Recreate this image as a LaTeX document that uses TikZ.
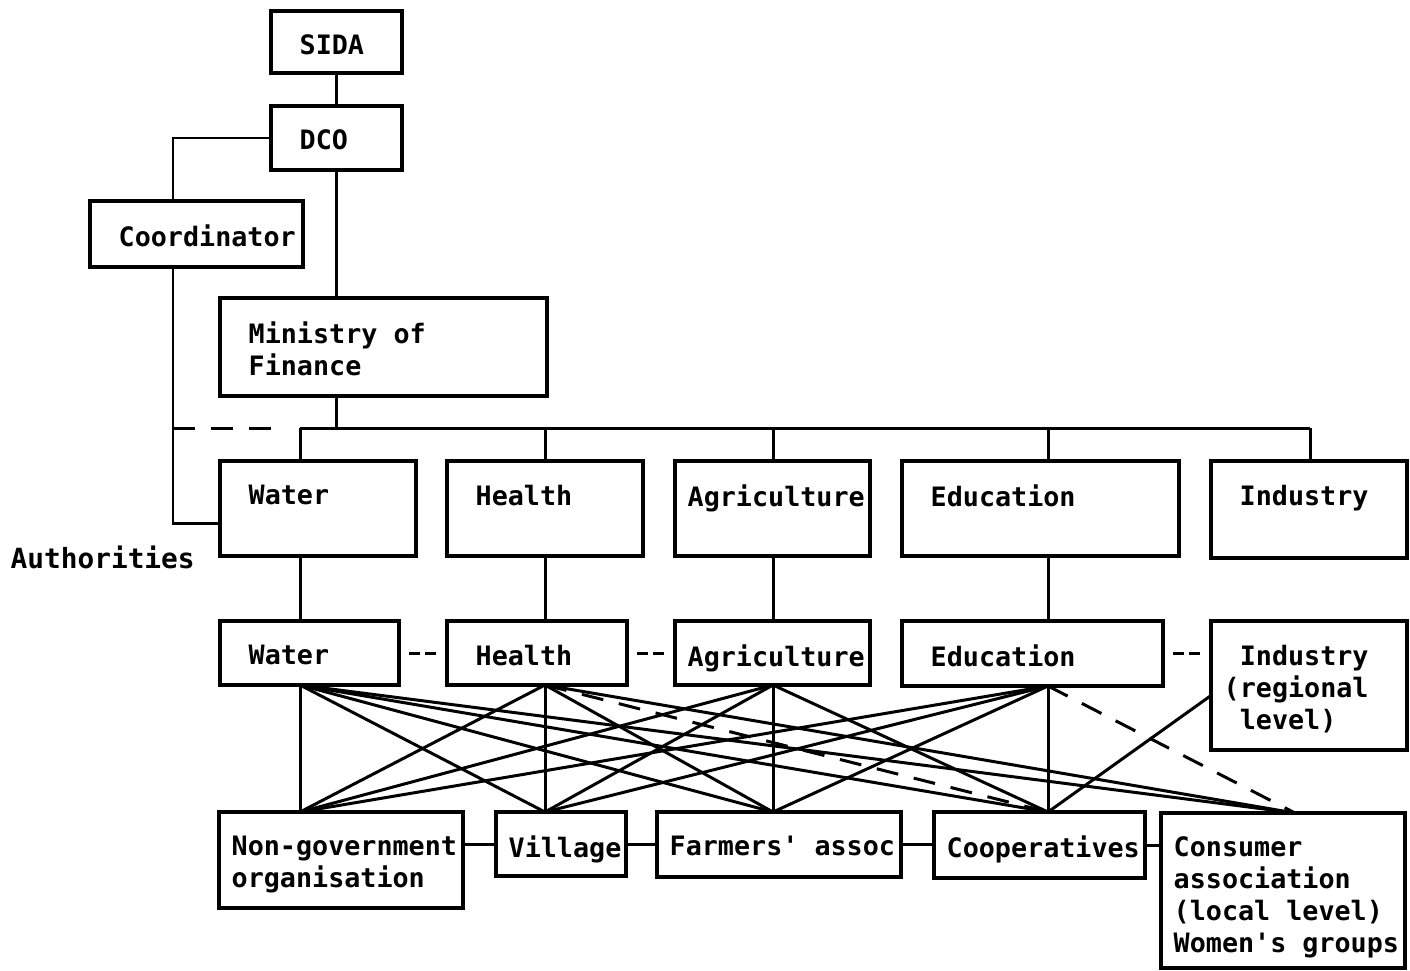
\documentclass[tikz,border=0pt]{standalone}
\usepackage{fontspec}
\setmonofont{DejaVu Sans Mono}
\usetikzlibrary{calc}

\begin{document}
\begin{tikzpicture}[x=0.01cm,y=-0.01cm,
	box/.style 2 args={draw, line width=0.9pt, inner sep=0pt, outer sep=0pt, anchor=north west, minimum width=#1*0.01cm, minimum height=#2*0.01cm},
	lbl/.style={anchor=north west, inner sep=0pt, align=left, xshift=0.12cm, yshift=-0.23cm, font=\ttfamily\bfseries\fontsize{7.6}{9.1}\selectfont},
	ind/.style={xshift=0.16cm},
	link/.style={line width=0.85pt},
	longdash/.style={link, dash pattern=on 0.22cm off 0.16cm},
	shortdash/.style={link, dash pattern=on 0.11cm off 0.05cm, shorten <=0.1cm, shorten >=0.1cm},
	]
	\useasboundingbox (0,0) rectangle (1410,970);
	
	% top of the chart
	\node[box={131}{62}, label={[lbl,ind]north west:SIDA}] (sida) at (271,11) {};
	\node[box={131}{64}, label={[lbl,ind]north west:DCO}] (dco) at (271,106) {};
	\node[box={213}{66}, label={[lbl,ind]north west:Coordinator}] (coor) at (90,201) {};
	\node[box={327}{98}, label={[lbl,ind]north west:Ministry of\\Finance}] (min) at (220,298) {};
	
	% authorities
	\node[box={196}{95}, label={[lbl,ind]north west:Water}] (wat) at (220,461) {};
	\node[box={196}{95}, label={[lbl,ind]north west:Health}] (hea) at (447,461) {};
	\node[box={195}{95}, label={[lbl]north west:Agriculture}] (agr) at (675,461) {};
	\node[box={277}{95}, label={[lbl,ind]north west:Education}] (edu) at (902,461) {};
	\node[box={196}{97}, label={[lbl,ind]north west:Industry}] (ind) at (1211,461) {};
	\node[anchor=west, inner sep=0pt, font=\ttfamily\bfseries\fontsize{7.9}{9.1}\selectfont] (auth) at (10,557) {Authorities};
	
	% regional level
	\node[box={179}{64}, label={[lbl,ind]north west:Water}] (rwat) at (220,621) {};
	\node[box={180}{64}, label={[lbl,ind]north west:Health}] (rhea) at (447,621) {};
	\node[box={195}{64}, label={[lbl]north west:Agriculture}] (ragr) at (675,621) {};
	\node[box={261}{65}, label={[lbl,ind]north west:Education}] (redu) at (902,621) {};
	\node[box={196}{129}, label={[lbl]north west:~Industry\\(regional\\~level)}] (rind) at (1211,621) {};
	
	% local level
	\node[box={244}{96}, label={[lbl]north west:Non-government\\organisation}] (ngo) at (219,812) {};
	\node[box={130}{64}, label={[lbl]north west:Village}] (vil) at (496,812) {};
	\node[box={244}{65}, label={[lbl]north west:Farmers' assoc}] (far) at (657,812) {};
	\node[box={211}{66}, label={[lbl]north west:Cooperatives}] (coop) at (934,812) {};
	\node[box={244}{155}, label={[lbl]north west:Consumer\\association\\(local level)\\Women's groups}] (cons) at (1161,813) {};
	
	\path
	(300,428) coordinate (k1)
	(545,428) coordinate (k2)
	(773,428) coordinate (k3)
	(1048,428) coordinate (k4)
	(1310,428) coordinate (k5)
	(1295,428) coordinate (kb)
	(173,428) coordinate (kc)
	(280,428) coordinate (dend)
	;
	
	\draw[link] (sida) -- (dco);
	\draw[link] (dco.west) -| (kc |- coor.north);
	\draw[link] (dco.south) -- (dco.south |- min.north);
	\draw[link] (dco.south |- min.south) -- (dco.south |- k1);
	\draw[link] (k1) -- (k5);
	\foreach \c/\n in {1/wat,2/hea,3/agr,4/edu,5/ind}
		\draw[link] (k\c) -- (k\c |- \n.north);
	\foreach \c/\n/\r in {1/wat/rwat,2/hea/rhea,3/agr/ragr,4/edu/redu}
		\draw[link] (k\c |- \n.south) -- (k\c |- \r.north);
	\draw[link] (kc |- coor.south) |- ([yshift=-0.15cm]wat.west);
	\draw[longdash] (kc) -- (dend);
	
	\draw[shortdash] (rwat.east) -- (rhea.west);
	\draw[shortdash] (rhea.east) -- (ragr.west);
	\draw[shortdash] (redu.east) -- (rind.west |- redu.east);
	
	\draw[link] (ngo.east |- vil.west) -- (vil.west);
	\draw[link] (vil.east) -- (far.west |- vil.east);
	\draw[link] (far.east) -- (coop.west |- far.east);
	\draw[link] (coop.east) -- (cons.west |- coop.east);
	
	% regional to local
	\foreach \c/\r in {1/rwat,2/rhea,3/ragr,4/redu}
		\coordinate (t\c) at (k\c |- \r.south);
	\foreach \c/\b in {1/ngo,2/vil,3/far,4/coop}
		\coordinate (b\c) at (k\c |- \b.north);
	\coordinate (b5) at (kb |- cons.north);
	\foreach \a/\b in {1/1,1/2,1/3,1/4,1/5,2/1,2/2,2/3,2/5,3/1,3/2,3/3,3/4,4/1,4/2,4/3,4/4}
		\draw[link] (t\a) -- (b\b);
	\draw[longdash] (t2) -- (b4);
	\draw[longdash] (t4) -- (b5);
	\draw[link] ([yshift=-0.1cm]rind.west) -- (b4);
\end{tikzpicture}
\end{document}
